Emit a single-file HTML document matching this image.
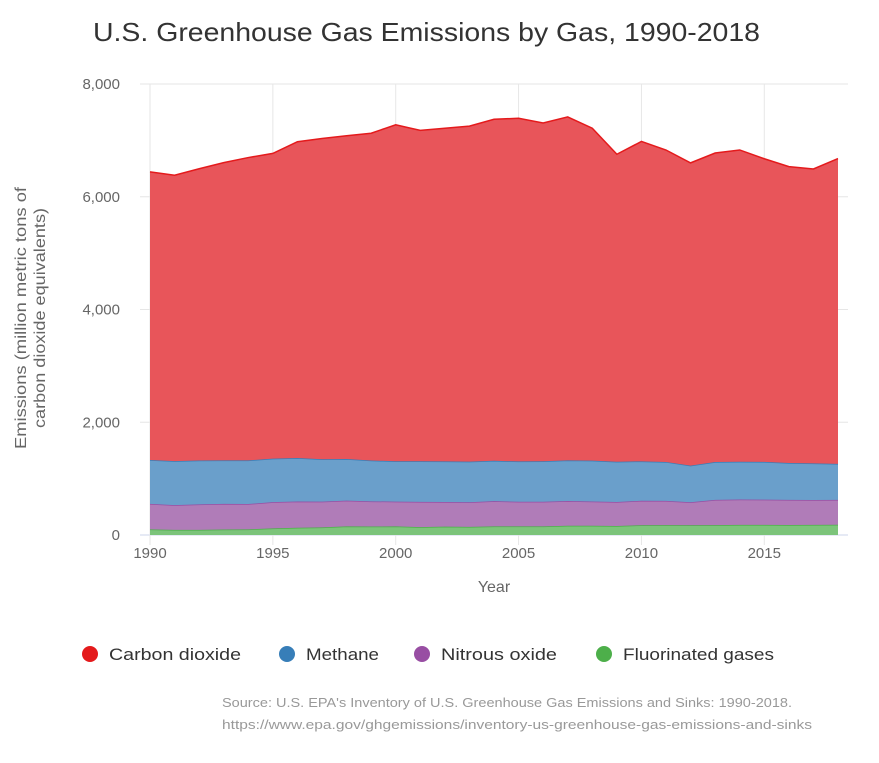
<!DOCTYPE html>
<html><head><meta charset="utf-8"><style>
body{margin:0;background:#fff;font-family:"Liberation Sans","DejaVu Sans",sans-serif;}
svg{display:block}
</style></head><body>
<svg id="chart" width="879" height="763">
<text x="93" y="41" textLength="667" lengthAdjust="spacingAndGlyphs" font-size="26" fill="#333">U.S. Greenhouse Gas Emissions by Gas, 1990-2018</text>
<g id="grid"></g><g id="areas"></g><g id="axes"></g>
<text transform="translate(30,318) rotate(-90)" text-anchor="middle" font-size="16" fill="#666"><tspan x="0" dy="-4" textLength="262" lengthAdjust="spacingAndGlyphs">Emissions (million metric tons of</tspan><tspan x="0" dy="19" textLength="220" lengthAdjust="spacingAndGlyphs">carbon dioxide equivalents)</tspan></text>
<text x="494" y="592" text-anchor="middle" font-size="16" fill="#666">Year</text>
<g id="legend"></g>
<text x="222" y="707" font-size="12.5" fill="#999" textLength="570" lengthAdjust="spacingAndGlyphs">Source: U.S. EPA's Inventory of U.S. Greenhouse Gas Emissions and Sinks: 1990-2018.</text>
<text x="222" y="729" font-size="12.5" fill="#999" textLength="590" lengthAdjust="spacingAndGlyphs">https://www.epa.gov/ghgemissions/inventory-us-greenhouse-gas-emissions-and-sinks</text>
</svg>
<script>
const years=[1990,1991,1992,1993,1994,1995,1996,1997,1998,1999,2000,2001,2002,2003,2004,2005,2006,2007,2008,2009,2010,2011,2012,2013,2014,2015,2016,2017,2018];
const fgas=[99,90,92,97,100,118,128,136,154,150,152,140,148,144,152,153,154,163,163,160,174,175,172,176,180,180,178,180,182];
const n2o=[452,441,451,456,449,466,467,457,455,447,441,448,437,438,449,437,435,441,431,425,433,431,408,448,450,448,445,440,440];
const ch4=[780,780,778,770,775,770,770,750,740,725,715,720,720,720,715,715,720,720,725,715,700,690,650,670,670,670,655,650,640];
const co2=[5111,5071,5175,5282,5371,5415,5611,5691,5733,5805,5968,5869,5911,5951,6058,6087,6000,6092,5897,5454,5674,5533,5371,5482,5530,5376,5257,5223,5415];
const yTicks=[0,2000,4000,6000,8000];
const yTickLabels=["0","2,000","4,000","6,000","8,000"];
const xTicks=[1990,1995,2000,2005,2010,2015];
const NS="http://www.w3.org/2000/svg";
const x0=150,x1=838,yb=535,yt=84;
const X=v=>x0+(v-1990)/(2018-1990)*(x1-x0);
const Y=v=>yb-v/8000*(yb-yt);
function el(t,a,p){const e=document.createElementNS(NS,t);for(const k in a)e.setAttribute(k,a[k]);document.getElementById(p).appendChild(e);return e;}
yTicks.forEach((v,i)=>{
 const l=el('line',{x1:x0-10,x2:x1+10,y1:Y(v),y2:Y(v),stroke:i==0?'#ccd6eb':'#e6e6e6'},'grid');
 
 
 const t=el('text',{x:120,y:Y(v)+5,'text-anchor':'end','font-size':15,fill:'#666'},'axes');t.textContent=yTickLabels[i];
 
 
});
xTicks.forEach(v=>{
 const l=el('line',{x1:X(v),x2:X(v),y1:yt,y2:yb+10,stroke:'#e6e6e6'},'grid');
 
 
 const t=el('text',{x:X(v),y:558,'text-anchor':'middle','font-size':15,fill:'#666'},'axes');t.textContent=v;
 
 
});
const series=[["fluorinated-gases",fgas,"#7cc47a","#4daf4a"],["nitrous-oxide",n2o,"#b07cb8","#984ea3"],["methane",ch4,"#6a9fcb","#377eb8"],["carbon-dioxide",co2,"#e8555a","#e41a1c"]];
let base=years.map(()=>0);
series.forEach(([name,vals,fill,line])=>{
 const top=base.map((b,i)=>b+vals[i]);
 const up=years.map((y,i)=>X(y)+','+Y(top[i]));
 const dn=years.map((y,i)=>X(y)+','+Y(base[i])).reverse();
 const p=el('polygon',{points:up.concat(dn).join(' '),fill:fill},'areas');
 
 
 const pl=el('polyline',{points:up.join(' '),fill:'none',stroke:line,'stroke-width':1.5},'areas');
 
 
 base=top;
});
const leg=[["Carbon dioxide","#e41a1c",90,132],["Methane","#377eb8",287,73],["Nitrous oxide","#984ea3",422,116],["Fluorinated gases","#4daf4a",604,151]];
leg.forEach(([n,c,x,w])=>{
 const g=el('g',{},'legend');
 
 
 const ci=document.createElementNS(NS,'circle');ci.setAttribute('cx',x);ci.setAttribute('cy',654);ci.setAttribute('r',8);ci.setAttribute('fill',c);g.appendChild(ci);
 const t=document.createElementNS(NS,'text');t.setAttribute('x',x+19);t.setAttribute('y',660);t.setAttribute('font-size',17);t.setAttribute('fill','#333');t.setAttribute('textLength',w);t.setAttribute('lengthAdjust','spacingAndGlyphs');t.textContent=n;g.appendChild(t);
});
</script>
</body></html>
